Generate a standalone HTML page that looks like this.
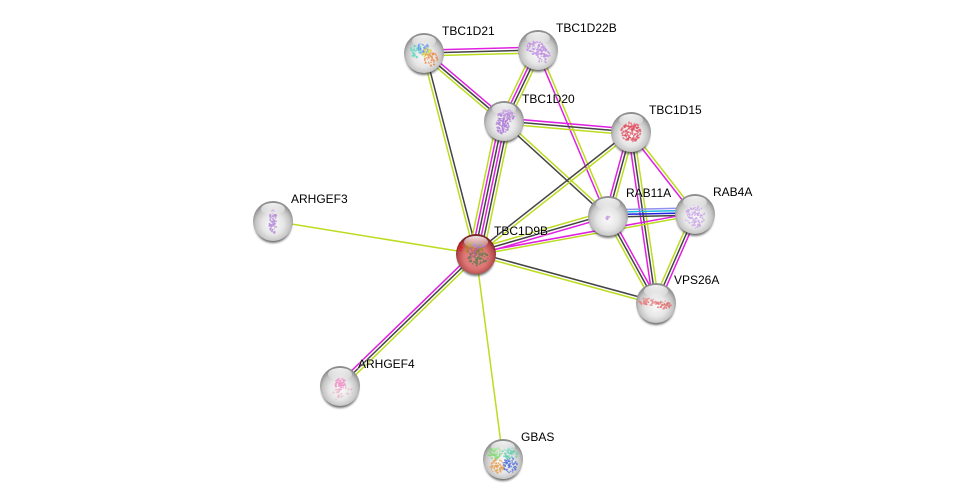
<!DOCTYPE html>
<html><head><meta charset="utf-8">
<style>
html,body{margin:0;padding:0;background:#fff;width:975px;height:504px;overflow:hidden}
svg{display:block}
text{font-family:"Liberation Sans",sans-serif;font-size:12px;fill:#000;paint-order:stroke;stroke:rgba(255,255,255,.45);stroke-width:1.2px}
</style></head><body>
<svg id="s" width="975" height="504" viewBox="0 0 975 504" xmlns="http://www.w3.org/2000/svg">
<defs>
<radialGradient id="g" cx="50%" cy="58%" r="54%">
<stop offset="0" stop-color="#fafafa"/><stop offset=".5" stop-color="#e6e6e6"/><stop offset=".8" stop-color="#c4c4c4"/><stop offset="1" stop-color="#8e8e8e"/>
</radialGradient>
<radialGradient id="r" cx="50%" cy="58%" r="54%">
<stop offset="0" stop-color="#e88e8e"/><stop offset=".55" stop-color="#dd7575"/><stop offset=".82" stop-color="#b84f4f"/><stop offset="1" stop-color="#7a2626"/>
</radialGradient>
<linearGradient id="h" x1="0" y1="0" x2="0" y2="1">
<stop offset="0" stop-color="#fff" stop-opacity=".9"/><stop offset="1" stop-color="#fff" stop-opacity=".05"/>
</linearGradient>
<filter id="b" x="-30%" y="-30%" width="160%" height="160%"><feGaussianBlur stdDeviation="1.1"/></filter>
</defs>
<g id="edges" fill="none" stroke-width="1.5"></g>
<g id="nodes"></g>
<text x="442" y="35">TBC1D21</text>
<text x="556" y="32">TBC1D22B</text>
<text x="522" y="103">TBC1D20</text>
<text x="649" y="114">TBC1D15</text>
<text x="626" y="197">RAB11A</text>
<text x="713" y="196">RAB4A</text>
<text x="494" y="235">TBC1D9B</text>
<text x="674" y="284">VPS26A</text>
<text x="291" y="203">ARHGEF3</text>
<text x="358" y="368">ARHGEF4</text>
<text x="521" y="441">GBAS</text>
</svg>
<script>
var NS="http://www.w3.org/2000/svg";
var P={a:[424,53],b:[538,50],c:[504,121],d:[631,132],e:[608,216],f:[695,214],g:[476,254],h:[656,303],i:[273,221],j:[340,386],k:[503,459]};
var M="#e020e0",K="#444",Y="#bcdc20",B="#2020e0",C="#20b8e0",V="#9090f0";
/* colours listed from the left of the direction p->q; optional spacing and shift */
var E=[
["a","b",[M,K,Y]],
["a","c",[M,K,Y]],
["a","g",[K,Y]],
["b","c",[Y,K,M,Y]],
["b","e",[Y,M]],
["c","d",[M,K,Y]],
["c","e",[Y,K]],
["c","g",[Y,K,M,K,M,Y]],
["g","d",[K,Y]],
["d","e",[Y,K,M]],
["d","f",[Y,M]],
["d","h",[Y,K,M]],
["e","f",[V,C,B,K],2.4,2.5],
["e","h",[M,K,Y]],
["f","h",[M,K,Y]],
["g","e",[Y,K,M],3,2],
["g","f",[M,Y],2.4],
["g","h",[K,Y]],
["g","i",[Y]],
["g","k",[Y]],
["j","g",[M,K,Y]]
];
var eg=document.getElementById("edges");
E.forEach(function(e){
 var p=P[e[0]],q=P[e[1]],dx=q[0]-p[0],dy=q[1]-p[1],L=Math.hypot(dx,dy),nx=dy/L,ny=-dx/L,n=e[2].length,sp=e[3]||2.9,sh=e[4]||0;
 e[2].forEach(function(c,i){
  var o=((n-1)/2-i)*sp+sh,l=document.createElementNS(NS,"line");
  l.setAttribute("x1",p[0]+nx*o);l.setAttribute("y1",p[1]+ny*o);
  l.setAttribute("x2",q[0]+nx*o);l.setAttribute("y2",q[1]+ny*o);
  l.setAttribute("stroke",c);eg.appendChild(l);
 });
});
var seed=7;function R(){seed=(seed*16807)%2147483647;return seed/2147483647;}
function blob(g,cx,cy,rx,ry,col,n,op){
 for(var i=0;i<n;i++){
  var a=R()*6.283,d=Math.sqrt(R()),c=document.createElementNS(NS,"circle");
  c.setAttribute("cx",cx+Math.cos(a)*d*rx);c.setAttribute("cy",cy+Math.sin(a)*d*ry);
  c.setAttribute("r",.6+R()*.5);c.setAttribute("fill",col);c.setAttribute("opacity",op||.75);g.appendChild(c);
 }
}
var ng=document.getElementById("nodes");
var G={
a:[[-8,-2,6,7,"#60d8c0",40],[-1,-5,6,5,"#6090e8",40],[3,0,5,5,"#d8d050",30],[7,6,7,7,"#e89050",50]],
b:[[-2,-2,10,7,"#c090e0",90],[5,5,7,8,"#c090e0",60]],
c:[[2,-5,8,7,"#b080d8",90],[-2,5,7,8,"#b080d8",90]],
d:[[0,0,10,10,"#e05060",150]],
e:[[0,2,2,2,"#c8a0e0",12]],
f:[[0,3,10,12,"#c8a0e8",90]],
g:[[-2,-6,10,6,"#a08a20",70],[3,-9,7,3,"#9070d0",30],[2,4,10,8,"#6a7a50",90],[-15,-8,3,5,"#e02020",16],[-2,-2,6,5,"#c06090",25]],
h:[[-8,-1,9,4,"#e88080",45],[8,2,9,4,"#e07070",45]],
i:[[0,1,4,12,"#b890d8",80]],
j:[[0,-2,6,6,"#f090c8",50],[6,6,11,6,"#e8b8c8",20],[-6,8,6,6,"#e8b8c8",10]],
k:[[-8,-6,7,6,"#80d870",60],[7,-6,8,6,"#60d0b0",60],[-6,7,7,7,"#e8a050",60],[7,6,7,8,"#5070d8",60]]
};
for(var k in P){
 var p=P[k],g=document.createElementNS(NS,"g");
 g.setAttribute("transform","translate("+p[0]+","+p[1]+")");
 g.innerHTML='<ellipse cx="0" cy="3.5" rx="18.5" ry="18.5" fill="#333" opacity=".7" filter="url(#b)"/>'+
  '<circle r="20" fill="url(#'+(k=="g"?"r":"g")+')"/>';
 G[k].forEach(function(b){blob(g,b[0],b[1],b[2],b[3],b[4],b[5]);});
 var t=document.createElementNS(NS,"g");
 t.innerHTML='<ellipse cx="0" cy="-12" rx="12" ry="6" fill="url(#h)"/>';
 g.appendChild(t);
 ng.appendChild(g);
}
</script>
</body></html>
